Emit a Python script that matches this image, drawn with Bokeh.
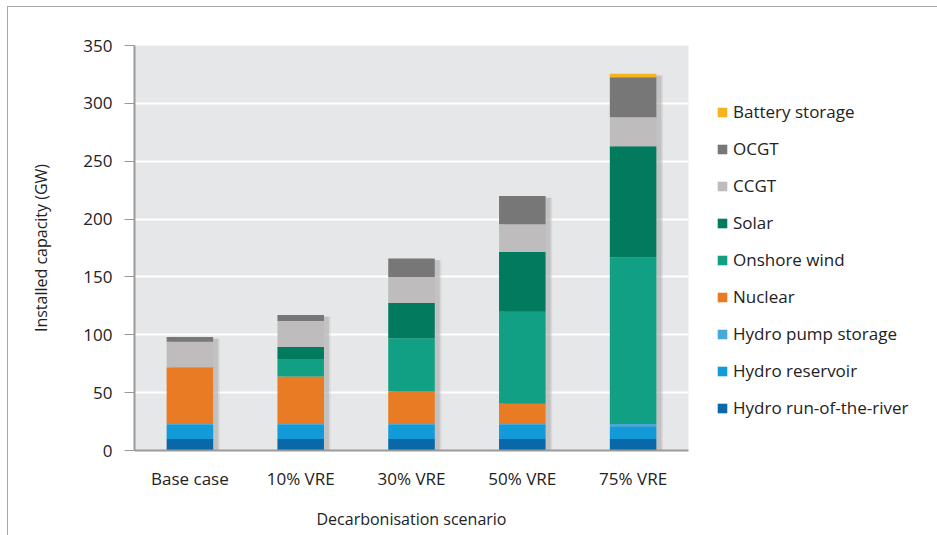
from bokeh.plotting import figure
from bokeh.models import ColumnDataSource, FactorRange, Legend, LegendItem, SingleIntervalTicker
from bokeh.transform import dodge
from bokeh.embed import file_html
from bokeh.resources import INLINE

categories = ["Base case", "10% VRE", "30% VRE", "50% VRE", "75% VRE"]
series_names = ["Hydro run-of-the-river", "Hydro reservoir", "Hydro pump storage", "Nuclear",
                "Onshore wind", "Solar", "CCGT", "OCGT", "Battery storage"]
hydro_run_of_river = [10, 10, 10, 10, 10]
hydro_reservoir = [12, 12, 12, 12, 11]
hydro_pump_storage = [1, 1, 1, 1, 2]
nuclear = [49, 41, 28, 17.5, 0]
onshore_wind = [0, 15, 46, 79.5, 144]
solar = [0, 10.5, 30.5, 51.5, 96]
ccgt = [22, 22.5, 22.5, 24, 25]
ocgt = [4, 5, 16, 24.5, 34.5]
battery_storage = [0, 0, 0, 0, 3]
colors = ["#0a67a8", "#139ad8", "#45a9dc", "#e87b24", "#12a085", "#027a5d",
          "#bebcbc", "#777777", "#f2b51c"]

keys = ["s%d" % i for i in range(len(series_names))]
values = [hydro_run_of_river, hydro_reservoir, hydro_pump_storage, nuclear,
          onshore_wind, solar, ccgt, ocgt, battery_storage]
data = {"cat": categories}
for k, v in zip(keys, values):
    data[k] = v
data["total"] = [sum(col) for col in zip(*values)]
data["shadow_top"] = [t - 1.5 for t in data["total"]]
source = ColumnDataSource(data)

FONT = "Open Sans"
TXT = "#222222"

p = figure(x_range=FactorRange(*categories, range_padding=0), y_range=(0, 350),
           frame_width=554, frame_height=405, output_backend="svg", toolbar_location=None,
           min_border_left=126, min_border_right=240, min_border_top=38, min_border_bottom=85)
p.styles = {"margin-left": "7px", "margin-top": "6px",
            "border-top": "1px solid #a8a8a8", "border-left": "1px solid #a8a8a8"}
p.background_fill_color = "#e6e7e8"
p.border_fill_color = "white"
p.outline_line_color = None

# drop shadow
p.vbar(x=dodge("cat", 0.045, range=p.x_range), top="shadow_top", bottom=0, width=0.42,
       source=source, fill_color="#a9a9a9", fill_alpha=0.55, line_color=None)
p.vbar(x=dodge("cat", 0.06, range=p.x_range), top="shadow_top", bottom=0, width=0.42,
       source=source, fill_color="#bdbdbd", fill_alpha=0.35, line_color=None)

renderers = p.vbar_stack(keys, x="cat", width=0.42, color=colors, source=source, line_color=None)

items = [LegendItem(label=name, renderers=[r]) for name, r in zip(series_names, renderers)]
legend = Legend(items=list(reversed(items)), location=(28, 31), padding=0, margin=0,
                border_line_color=None, background_fill_alpha=0,
                glyph_width=12, glyph_height=12, label_height=22, spacing=14, label_standoff=5,
                label_text_font=FONT, label_text_font_size="17px", label_text_color=TXT)
p.add_layout(legend, "right")

p.xgrid.grid_line_color = None
p.ygrid.grid_line_color = "white"
p.ygrid.grid_line_width = 2
p.yaxis.ticker = SingleIntervalTicker(interval=50)
p.yaxis.minor_tick_line_color = None

for ax in (p.xaxis, p.yaxis):
    ax.axis_line_color = "#9a9a9a"
    ax.axis_line_width = 2
    ax.major_label_text_font = FONT
    ax.major_label_text_font_size = "17px"
    ax.major_label_text_color = TXT
    ax.axis_label_text_font = FONT
    ax.axis_label_text_font_size = "16px"
    ax.axis_label_text_font_style = "normal"
    ax.axis_label_text_color = TXT

p.yaxis.axis_label = "Installed capacity (GW)"
p.yaxis.major_tick_line_color = "#9a9a9a"
p.yaxis.major_tick_in = 0
p.yaxis.major_tick_out = 10
p.yaxis.major_label_standoff = 12
p.yaxis.axis_label_standoff = 28

p.xaxis.axis_label = "Decarbonisation scenario"
p.xaxis.major_tick_line_color = None
p.xaxis.major_tick_in = 0
p.xaxis.major_tick_out = 0
p.xaxis.major_label_standoff = 16
p.xaxis.axis_label_standoff = 15

open("out.html", "w").write(file_html(p, INLINE))
